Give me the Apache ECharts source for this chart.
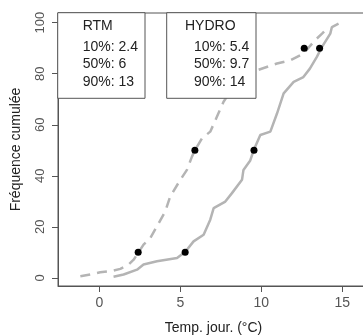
<!DOCTYPE html>
<html>
<head>
<meta charset="utf-8">
<script src="https://cdn.jsdelivr.net/npm/echarts@6/dist/echarts.min.js"></script>
<style>
  html, body { margin: 0; padding: 0; background: #fff; }
  #main { width: 363px; height: 336px; }
</style>
</head>
<body>
<div id="main"></div>
<script>
// cumulative frequency curves
var rtmTemp = [-1.17, -0.56, 0.06, 0.68, 1.3, 1.81, 2.12, 2.4, 2.73, 3.15, 3.56, 4.07, 4.38, 5.0, 5.41, 5.72, 5.88, 6.34, 6.85, 7.26, 7.67, 8.2, 9.0, 9.73, 10.97, 11.8, 12.6, 13.3, 13.75, 13.95];
var rtmFreq = [0.6, 1.3, 2.2, 2.6, 3.5, 5.2, 7.1, 9.8, 13, 15.6, 20.2, 26, 31.9, 38.4, 42.3, 47.5, 49.7, 54.7, 57.3, 63.1, 69, 74, 78.5, 81.3, 84, 85.3, 87.9, 93, 95.7, 97];
var hydroTemp = [0.88, 1.5, 2.33, 2.73, 3.56, 4.8, 5.31, 5.82, 6.44, 6.85, 7.06, 7.78, 8.19, 8.81, 8.9, 9.32, 9.53, 9.94, 10.56, 10.97, 11.38, 12.0, 12.6, 13.0, 13.43, 13.75, 14.26, 14.36, 14.77];
var hydroFreq = [0.4, 1.3, 3.2, 5.2, 6.5, 7.8, 10.2, 14.3, 16.9, 22.8, 27.3, 29.9, 33.2, 38.4, 42.3, 46, 50, 56, 57.3, 64.4, 72.3, 76.8, 78.7, 82, 86.6, 90.5, 95.7, 98.3, 99.6];

// quantile dots
var quantFreq = [10, 50, 90];
var rtmQuant = [2.4, 5.9, 12.65];
var hydroQuant = [5.3, 9.55, 13.6];

// legend box texts
var rtmLabels = ['10%: 2.4', '50%: 6', '90%: 13'];
var hydroLabels = ['10%: 5.4', '50%: 9.7', '90%: 14'];

var xTicks = [0, 5, 10, 15];
var yTicks = [0, 20, 40, 60, 80, 100];

function pairs(xs, ys) {
  return xs.map(function (x, i) { return [x, ys[i]]; });
}

var font = 'Liberation Sans, Arial, sans-serif';
var lineColor = '#b4b4b4';

var chart = echarts.init(document.getElementById('main'), null, { renderer: 'canvas' });

// legend boxes
var graphics = [];
function addBox(left, right, title, titleX, lines, linesX) {
  graphics.push({
    type: 'rect', z: 100,
    shape: { x: left, y: 12.7, width: right - left, height: 85.6 },
    style: { fill: '#fff', stroke: '#555', lineWidth: 1 }
  });
  graphics.push({
    type: 'text', z: 101, x: titleX, y: 26,
    style: { text: title, font: '14px ' + font, fill: '#222', verticalAlign: 'middle' }
  });
  lines.forEach(function (t, i) {
    graphics.push({
      type: 'text', z: 101, x: linesX, y: 46.7 + i * 17.5,
      style: { text: t, font: '14px ' + font, fill: '#222', verticalAlign: 'middle' }
    });
  });
}
addBox(57.7, 145, 'RTM', 82.7, rtmLabels, 82.7);
addBox(166.7, 256, 'HYDRO', 185, hydroLabels, 194);

var option = {
  animation: false,
  backgroundColor: '#fff',
  grid: {
    left: 58, top: 13, width: 311, bottom: 50,
    outerBoundsMode: 'none',
    containLabel: false,
    show: true, borderColor: '#555', borderWidth: 1
  },
  xAxis: {
    type: 'value',
    min: -2.55, max: 16.65,
    name: 'Temp. jour. (°C)',
    nameLocation: 'middle',
    nameGap: 35,
    nameTextStyle: { color: '#222', fontSize: 14, fontFamily: font },
    axisLine: { show: true, onZero: false, lineStyle: { color: '#555', width: 1 } },
    axisTick: { show: true, length: 6, customValues: xTicks, lineStyle: { color: '#555' } },
    axisLabel: { customValues: xTicks, margin: 10, color: '#555', fontSize: 14, fontFamily: font },
    splitLine: { show: false }
  },
  yAxis: {
    type: 'value',
    min: -3.2, max: 103.8,
    name: 'Fréquence cumulée',
    nameLocation: 'middle',
    nameGap: 35,
    nameTextStyle: { color: '#222', fontSize: 14, fontFamily: font },
    axisLine: { show: true, onZero: false, lineStyle: { color: '#555', width: 1 } },
    axisTick: { show: true, length: 6, customValues: yTicks, lineStyle: { color: '#555' } },
    axisLabel: { customValues: yTicks, rotate: 90, margin: 11, color: '#555', fontSize: 13, fontFamily: font },
    splitLine: { show: false }
  },
  series: [
    {
      name: 'RTM', type: 'line', showSymbol: false, symbol: 'none',
      data: pairs(rtmTemp, rtmFreq),
      lineStyle: { color: lineColor, width: 2.5, type: [10, 7] },
      z: 2
    },
    {
      name: 'HYDRO', type: 'line', showSymbol: false, symbol: 'none',
      data: pairs(hydroTemp, hydroFreq),
      lineStyle: { color: lineColor, width: 2.5 },
      z: 2
    },
    {
      name: 'RTM quantiles', type: 'scatter', symbolSize: 7,
      data: pairs(rtmQuant, quantFreq),
      itemStyle: { color: '#000', opacity: 1 }, z: 3
    },
    {
      name: 'HYDRO quantiles', type: 'scatter', symbolSize: 7,
      data: pairs(hydroQuant, quantFreq),
      itemStyle: { color: '#000', opacity: 1 }, z: 3
    }
  ],
  graphic: graphics
};

chart.setOption(option);
</script>
</body>
</html>
